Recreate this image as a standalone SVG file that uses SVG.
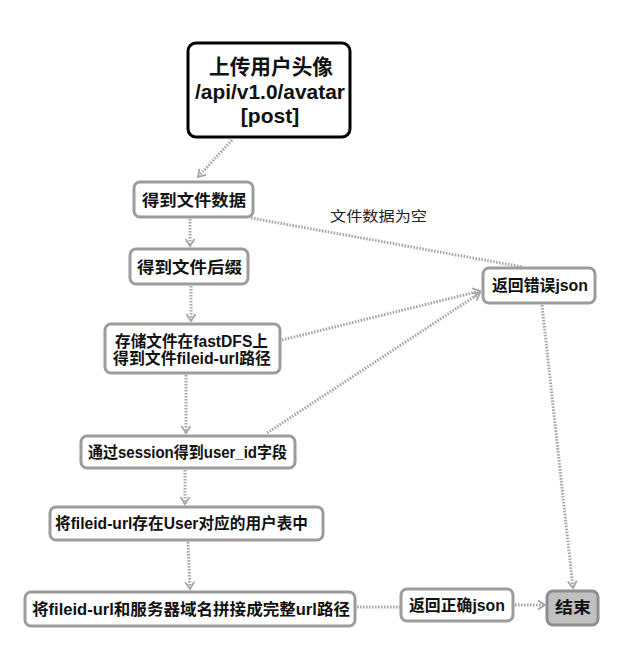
<svg xmlns="http://www.w3.org/2000/svg" width="642" height="649" viewBox="0 0 642 649">
<defs>
<marker id="arr" markerWidth="12" markerHeight="12" refX="9" refY="6" orient="auto" markerUnits="userSpaceOnUse">
<path d="M2,1.5 L9,6 L2,10.5" fill="none" stroke="#a6a6a6" stroke-width="1.8"/>
</marker>
<style>
.box{fill:#fff;stroke:#9c9c9c;stroke-width:3}
.start{fill:#fff;stroke:#000;stroke-width:3}
.end{fill:#c0c0c0;stroke:#8e8e8e;stroke-width:3}
.t{font-family:"Liberation Sans","Noto Sans CJK SC",sans-serif;font-weight:bold;font-size:16px;fill:#111;text-anchor:middle;dominant-baseline:central}
.big{font-size:21px}
.lbl{font-family:"Noto Sans CJK SC","Liberation Sans",sans-serif;font-size:14px;fill:#222;dominant-baseline:central}
.c{fill:none;stroke:#a8a8a8;stroke-width:3;stroke-dasharray:1.6 1.4}
</style>
</defs>
<rect width="642" height="649" fill="#fff"/>
<g id="connectors">
<path class="c" d="M232,140 L198,177" marker-end="url(#arr)"/>
<path class="c" d="M190,219 L190,246" marker-end="url(#arr)"/>
<path class="c" d="M251,218 L523,267"/>
<path class="c" d="M191,286 L191,321" marker-end="url(#arr)"/>
<path class="c" d="M282,340 L480,291" marker-end="url(#arr)"/>
<path class="c" d="M186,375 L186,433" marker-end="url(#arr)"/>
<path class="c" d="M267,433 L480,293" marker-end="url(#arr)"/>
<path class="c" d="M185,470 L185,504" marker-end="url(#arr)"/>
<path class="c" d="M188,542 L190,589" marker-end="url(#arr)"/>
<path class="c" d="M357,607 L400,607"/>
<path class="c" d="M515,605 L545,605" marker-end="url(#arr)"/>
<path class="c" d="M542,305 L573,588" marker-end="url(#arr)"/>
<text class="lbl" x="330" y="215" textLength="97" lengthAdjust="spacingAndGlyphs">文件数据为空</text>
</g>
<g id="start">
<rect class="start" x="188" y="43" width="162" height="94" rx="8"/>
<text class="t big" x="271" y="66" textLength="124" lengthAdjust="spacingAndGlyphs">上传用户头像</text>
<text class="t big" x="270" y="91" textLength="150" lengthAdjust="spacingAndGlyphs">/api/v1.0/avatar</text>
<text class="t big" x="270" y="115">[post]</text>
</g>
<g id="n1">
<rect class="box" x="134" y="182" width="119" height="35" rx="6"/>
<text class="t" x="194" y="200" textLength="104" lengthAdjust="spacingAndGlyphs">得到文件数据</text>
</g>
<g id="n2">
<rect class="box" x="130" y="249" width="118" height="35" rx="6"/>
<text class="t" x="189.5" y="267" textLength="105" lengthAdjust="spacingAndGlyphs">得到文件后缀</text>
</g>
<g id="n3">
<rect class="box" x="105" y="324" width="175" height="49" rx="6"/>
<text class="t" x="191.5" y="341" textLength="153" lengthAdjust="spacingAndGlyphs">存储文件在fastDFS上</text>
<text class="t" x="192" y="358" textLength="158" lengthAdjust="spacingAndGlyphs">得到文件fileid-url路径</text>
</g>
<g id="n4">
<rect class="box" x="81" y="436" width="214" height="32" rx="6"/>
<text class="t" x="187.5" y="452" textLength="199" lengthAdjust="spacingAndGlyphs">通过session得到user_id字段</text>
</g>
<g id="n5">
<rect class="box" x="50" y="507" width="273" height="33" rx="6"/>
<text class="t" x="181.5" y="523" textLength="253" lengthAdjust="spacingAndGlyphs">将fileid-url存在User对应的用户表中</text>
</g>
<g id="n6">
<rect class="box" x="25" y="592" width="330" height="34" rx="6"/>
<text class="t" x="191" y="609" textLength="318" lengthAdjust="spacingAndGlyphs">将fileid-url和服务器域名拼接成完整url路径</text>
</g>
<g id="n7">
<rect class="box" x="401" y="589" width="112" height="32" rx="6"/>
<text class="t" x="457" y="605" textLength="96" lengthAdjust="spacingAndGlyphs">返回正确json</text>
</g>
<g id="err">
<rect class="box" x="483" y="268" width="112" height="35" rx="6"/>
<text class="t" x="540" y="285" textLength="96" lengthAdjust="spacingAndGlyphs">返回错误json</text>
</g>
<g id="end">
<rect class="end" x="547" y="591" width="51" height="34" rx="6"/>
<text class="t" x="573" y="607" textLength="36" lengthAdjust="spacingAndGlyphs">结束</text>
</g>
</svg>
